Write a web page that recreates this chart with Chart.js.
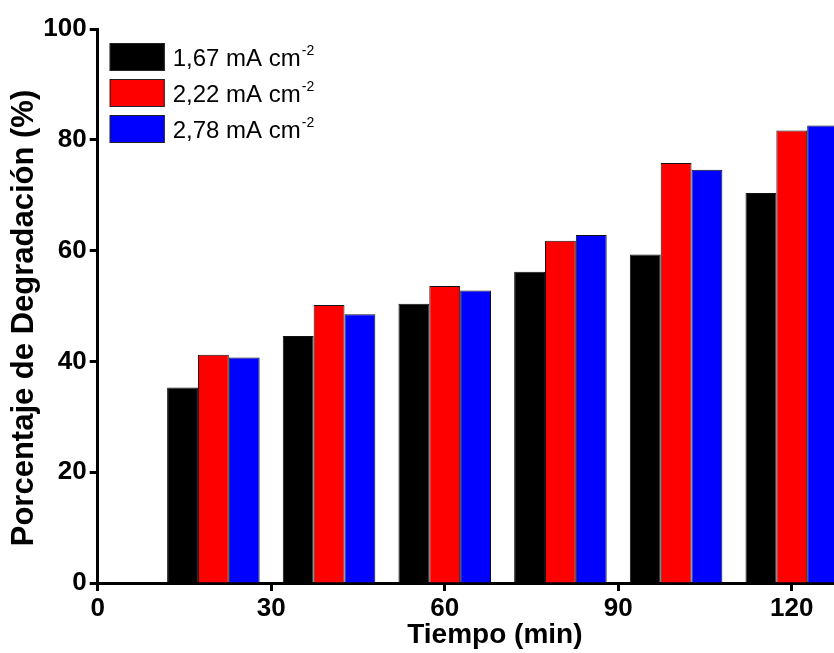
<!DOCTYPE html>
<html>
<head>
<meta charset="utf-8">
<script src="https://cdn.jsdelivr.net/npm/chart.js@4/dist/chart.umd.min.js"></script>
<style>
    body { margin: 0; background: #fff; }
    #wrap { width: 834px; height: 653px; position: relative; }
</style>
</head>
<body>
<div id="wrap"><canvas id="chart-degradacion"></canvas></div>
<script>
// Tiempo (min) de cada grupo de barras
const tiempos = [20, 40, 60, 80, 100, 120];

// Porcentaje de degradación por densidad de corriente
const serie167 = [35.3, 44.6, 50.4, 56.2, 59.3, 70.4];
const serie222 = [41.2, 50.2, 53.6, 61.8, 75.8, 81.7];
const serie278 = [40.7, 48.5, 52.8, 62.8, 74.6, 82.6];

const etiquetas = ['1,67 mA cm^-2', '2,22 mA cm^-2', '2,78 mA cm^-2'];
const colores = ['#000000', '#ff0000', '#0000ff'];

const xTicks = [0, 30, 60, 90, 120];
const yTicks = [0, 20, 40, 60, 80, 100];

const FONT = 'Arial, "Liberation Sans", sans-serif';

function toPoints(values) {
    return tiempos.map((t, i) => ({ x: t, y: values[i] }));
}

// legend drawn inside the plot, with superscript units
const legendPlugin = {
    id: 'legendSup',
    afterDraw(chart) {
        const ctx = chart.ctx;
        const area = chart.chartArea;
        const x0 = area.left + 12;
        let y0 = area.top + 14;
        ctx.save();
        chart.data.datasets.forEach((ds) => {
            ctx.fillStyle = ds.backgroundColor;
            ctx.fillRect(x0, y0, 55, 28);
            ctx.strokeStyle = '#222';
            ctx.lineWidth = 1;
            ctx.strokeRect(x0 + 0.5, y0 + 0.5, 54, 27);

            const [base, sup] = ds.label.split('^');
            ctx.fillStyle = '#000';
            ctx.textBaseline = 'alphabetic';
            ctx.textAlign = 'left';
            ctx.font = '24px ' + FONT;
            ctx.fillText(base, x0 + 63, y0 + 23);
            const w = ctx.measureText(base).width;
            ctx.font = '14px ' + FONT;
            ctx.fillText(sup, x0 + 64 + w, y0 + 12);
            y0 += 36;
        });
        ctx.restore();
    }
};

// axis titles placed where the original (cropped) figure has them
const titlesPlugin = {
    id: 'axisTitles',
    afterDraw(chart) {
        const ctx = chart.ctx;
        const area = chart.chartArea;
        ctx.save();
        ctx.fillStyle = '#000';
        ctx.textAlign = 'center';

        ctx.font = 'bold 28px ' + FONT;
        ctx.textBaseline = 'alphabetic';
        ctx.fillText('Tiempo (min)', (area.left + area.right) / 2 + 29, 643);

        ctx.translate(33, (area.top + area.bottom) / 2 + 12);
        ctx.rotate(-Math.PI / 2);
        ctx.font = 'bold 31px ' + FONT;
        ctx.fillText('Porcentaje de Degradación (%)', 0, 0);
        ctx.restore();
    }
};

const ctx = document.getElementById('chart-degradacion').getContext('2d');

new Chart(ctx, {
    type: 'bar',
    data: {
        datasets: [serie167, serie222, serie278].map((s, i) => ({
            label: etiquetas[i],
            data: toPoints(s),
            backgroundColor: colores[i],
            borderColor: '#111',
            borderWidth: 1,
            categoryPercentage: 0.8,
            barPercentage: 1.0
        }))
    },
    options: {
        responsive: true,
        maintainAspectRatio: false,
        animation: false,
        layout: { padding: { top: 29, right: 0, left: 0, bottom: 0 } },
        plugins: {
            legend: { display: false },
            tooltip: { enabled: false }
        },
        scales: {
            x: {
                type: 'linear',
                min: 0,
                max: 127.3,
                offset: false,
                afterBuildTicks: (scale) => { scale.ticks = xTicks.map(v => ({ value: v })); },
                afterFit: (scale) => { scale.height = 70; },
                grid: {
                    display: true,
                    offset: false,
                    drawOnChartArea: false,
                    drawTicks: true,
                    tickLength: 8,
                    tickWidth: 3,
                    tickColor: '#000'
                },
                border: { display: true, color: '#000', width: 3 },
                ticks: {
                    color: '#000',
                    padding: 2,
                    maxRotation: 0,
                    font: { family: FONT, size: 26, weight: 'bold' }
                },
                title: { display: false }
            },
            y: {
                min: 0,
                max: 100,
                afterBuildTicks: (scale) => { scale.ticks = yTicks.map(v => ({ value: v })); },
                afterFit: (scale) => { scale.width = 97.7; },
                grid: {
                    display: true,
                    drawOnChartArea: false,
                    drawTicks: true,
                    tickLength: 8,
                    tickWidth: 3,
                    tickColor: '#000'
                },
                border: { display: true, color: '#000', width: 3 },
                ticks: {
                    color: '#000',
                    padding: 3,
                    font: { family: FONT, size: 26, weight: 'bold' }
                },
                title: { display: false }
            }
        }
    },
    plugins: [legendPlugin, titlesPlugin]
});
</script>
</body>
</html>
